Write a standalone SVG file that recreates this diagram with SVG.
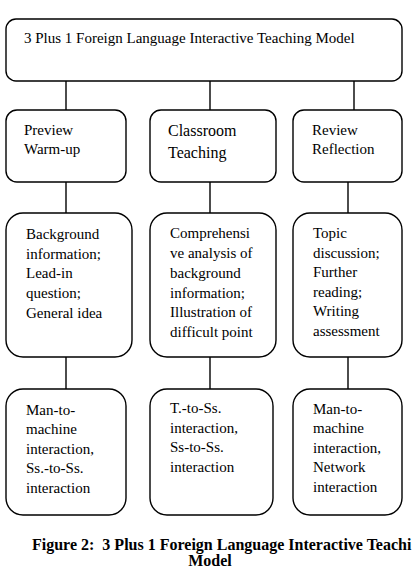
<svg xmlns="http://www.w3.org/2000/svg" width="414" height="568" viewBox="0 0 414 568">
<style>
.box{fill:#fff;stroke:#000;stroke-width:1.4}
text{font-family:'Liberation Serif','DejaVu Serif',serif;fill:#000}
.t{font-size:15px}
.t15{font-size:16px}
.cap{font-size:16px;font-weight:bold}
.c{stroke:#000;stroke-width:1.4;fill:none}
</style>
<rect width="414" height="568" fill="#fff"/>
<g id="connectors">
<line class="c" x1="66" y1="81" x2="66" y2="110"/>
<line class="c" x1="210" y1="81" x2="210" y2="110"/>
<line class="c" x1="354" y1="81" x2="354" y2="110"/>
<line class="c" x1="66" y1="182" x2="66" y2="213"/>
<line class="c" x1="210" y1="182" x2="210" y2="213"/>
<line class="c" x1="348" y1="182" x2="348" y2="213"/>
<line class="c" x1="66" y1="357" x2="66" y2="389"/>
<line class="c" x1="210" y1="357" x2="210" y2="389"/>
<line class="c" x1="348" y1="357" x2="348" y2="389"/>
</g>
<g id="top">
<rect class="box" x="6" y="19" width="396" height="62" rx="10"/>
<text class="t" x="24" y="43">3 Plus 1 Foreign Language Interactive Teaching Model</text>
</g>
<g id="preview">
<rect class="box" x="6" y="110" width="120" height="72" rx="11"/>
<text class="t" x="24" y="135">Preview</text>
<text class="t" x="24" y="154">Warm-up</text>
</g>
<g id="classroom">
<rect class="box" x="150" y="110" width="126" height="72" rx="11"/>
<text class="t15" x="168" y="136">Classroom</text>
<text class="t15" x="168" y="158">Teaching</text>
</g>
<g id="review">
<rect class="box" x="293" y="110" width="109" height="72" rx="11"/>
<text class="t" x="312" y="135">Review</text>
<text class="t" x="312" y="154">Reflection</text>
</g>
<g id="content1">
<rect class="box" x="6" y="213" width="126" height="144" rx="17"/>
<text class="t" x="26" y="239">Background</text>
<text class="t" x="26" y="259">information;</text>
<text class="t" x="26" y="278">Lead-in</text>
<text class="t" x="26" y="298">question;</text>
<text class="t" x="26" y="318">General idea</text>
</g>
<g id="content2">
<rect class="box" x="150" y="213" width="126" height="144" rx="17"/>
<text class="t" x="170" y="238">Comprehensi</text>
<text class="t" x="170" y="258">ve analysis of</text>
<text class="t" x="170" y="278">background</text>
<text class="t" x="170" y="298">information;</text>
<text class="t" x="170" y="317">Illustration of</text>
<text class="t" x="170" y="337">difficult point</text>
</g>
<g id="content3">
<rect class="box" x="293" y="213" width="109" height="144" rx="17"/>
<text class="t" x="313" y="238">Topic</text>
<text class="t" x="313" y="258">discussion;</text>
<text class="t" x="313" y="277">Further</text>
<text class="t" x="313" y="297">reading;</text>
<text class="t" x="313" y="316">Writing</text>
<text class="t" x="313" y="336">assessment</text>
</g>
<g id="interaction1">
<rect class="box" x="6" y="389" width="120" height="126" rx="17"/>
<text class="t" x="26" y="415">Man-to-</text>
<text class="t" x="26" y="434">machine</text>
<text class="t" x="26" y="454">interaction,</text>
<text class="t" x="26" y="473">Ss.-to-Ss.</text>
<text class="t" x="26" y="493">interaction</text>
</g>
<g id="interaction2">
<rect class="box" x="150" y="389" width="123" height="126" rx="17"/>
<text class="t" x="170" y="413">T.-to-Ss.</text>
<text class="t" x="170" y="433">interaction,</text>
<text class="t" x="170" y="452">Ss-to-Ss.</text>
<text class="t" x="170" y="472">interaction</text>
</g>
<g id="interaction3">
<rect class="box" x="293" y="389" width="109" height="126" rx="17"/>
<text class="t" x="313" y="414">Man-to-</text>
<text class="t" x="313" y="433">machine</text>
<text class="t" x="313" y="453">interaction,</text>
<text class="t" x="313" y="472">Network</text>
<text class="t" x="313" y="492">interaction</text>
</g>
<g id="caption">
<text class="cap" x="32" y="550" xml:space="preserve">Figure 2:  3 Plus 1 Foreign Language Interactive Teachi</text>
<text class="cap" x="210" y="566" text-anchor="middle">Model</text>
</g>
</svg>
